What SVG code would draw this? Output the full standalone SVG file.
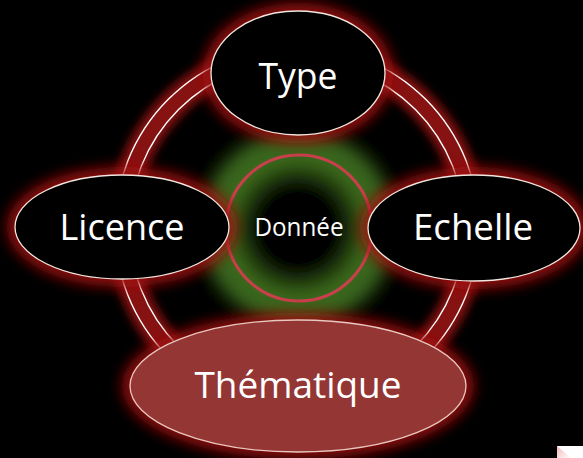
<svg xmlns="http://www.w3.org/2000/svg" width="583" height="458" viewBox="0 0 583 458">
<defs>
<filter id="glow" x="-30%" y="-30%" width="160%" height="160%"><feGaussianBlur stdDeviation="7"/></filter>
<filter id="ringglow" x="-20%" y="-20%" width="140%" height="140%"><feGaussianBlur stdDeviation="5"/></filter>
<filter id="soft" x="-30%" y="-30%" width="160%" height="160%"><feGaussianBlur stdDeviation="6"/></filter>
<radialGradient id="green" cx="298" cy="228" r="115" gradientUnits="userSpaceOnUse">
<stop offset="0" stop-color="#000"/>
<stop offset="0.32" stop-color="#000"/>
<stop offset="0.6" stop-color="#3c6a1a"/>
<stop offset="0.78" stop-color="#36601a"/>
<stop offset="1" stop-color="#000" stop-opacity="0"/>
</radialGradient>
<linearGradient id="curl" x1="0" y1="0" x2="1" y2="1">
<stop offset="0" stop-color="#f4b8b8"/>
<stop offset="1" stop-color="#fff"/>
</linearGradient>
<style>
.halo{fill:#a01010;filter:url(#glow);opacity:0.9;}
.node{fill:#000;stroke:#f0e8e0;stroke-width:1.3;}
.lbl{font-family:"Open Sans","Liberation Sans",sans-serif;font-size:37px;fill:#fff;text-anchor:middle;}
</style>
</defs>
<rect width="583" height="458" fill="#000"/>
<g id="center-glow">
<circle cx="298" cy="228" r="115" fill="url(#green)" filter="url(#soft)"/>
</g>
<g id="connectors">
<circle cx="297" cy="228" r="175" fill="none" stroke="#b01414" stroke-width="28" filter="url(#ringglow)" opacity="0.75"/>
<circle cx="297" cy="228" r="175" fill="none" stroke="#861212" stroke-width="15"/>
<circle cx="297" cy="228" r="182" fill="none" stroke="#fff" stroke-width="1.4"/>
<circle cx="297" cy="228" r="167.5" fill="none" stroke="#fff" stroke-width="1.4"/>
</g>
<g id="donnee">
<circle cx="299" cy="228" r="73" fill="none" stroke="#c8404c" stroke-width="3"/>
<text x="299" y="236" font-family="'Open Sans','Liberation Sans',sans-serif" font-size="26" fill="#fff" text-anchor="middle" textLength="89" lengthAdjust="spacingAndGlyphs">Donnée</text>
</g>
<g id="type">
<ellipse class="halo" cx="298" cy="73" rx="95" ry="70"/>
<ellipse class="node" cx="298" cy="73" rx="87" ry="62"/>
<text class="lbl" x="298" y="89" textLength="79" lengthAdjust="spacingAndGlyphs">Type</text>
</g>
<g id="licence">
<ellipse class="halo" cx="122" cy="227" rx="115" ry="60"/>
<ellipse class="node" cx="122" cy="227" rx="107" ry="52"/>
<text class="lbl" x="122" y="240" textLength="125" lengthAdjust="spacingAndGlyphs">Licence</text>
</g>
<g id="echelle">
<ellipse class="halo" cx="474" cy="228" rx="114" ry="61"/>
<ellipse class="node" cx="474" cy="228" rx="106" ry="53"/>
<text class="lbl" x="473" y="240" textLength="120" lengthAdjust="spacingAndGlyphs">Echelle</text>
</g>
<g id="thematique">
<ellipse class="halo" cx="298" cy="386" rx="176" ry="73"/>
<ellipse cx="298" cy="386" rx="168" ry="66" fill="#943634" stroke="#e8c8c0" stroke-width="1.3"/>
<text class="lbl" x="298" y="398" textLength="207" lengthAdjust="spacingAndGlyphs">Thématique</text>
</g>
<g id="corner">
<rect x="557" y="446" width="26" height="12" fill="#fff"/>
<polygon points="557,446 557,458 571,458" fill="url(#curl)"/>
</g>
</svg>
